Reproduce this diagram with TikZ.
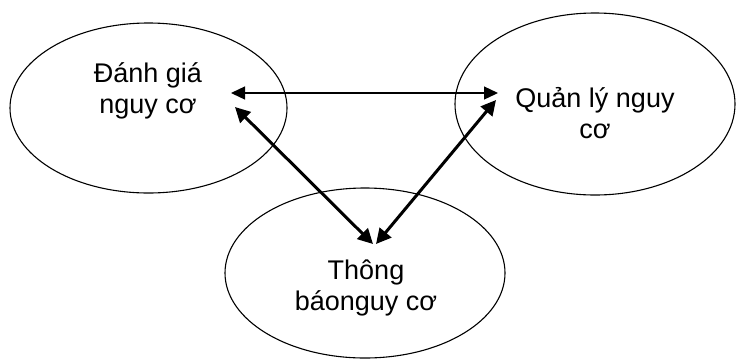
\documentclass[tikz,border=0pt]{standalone}
\usepackage{fontspec}
\setmainfont{Liberation Sans}
\usetikzlibrary{shapes.geometric,arrows.meta}
\begin{document}
\begin{tikzpicture}[x=1pt,y=-1pt,
  oval/.style={draw,ellipse,line width=1.1pt,inner sep=0pt},
  lbl/.style={font=\fontsize{27}{30.5}\selectfont,align=center,inner sep=0pt,anchor=base},
  thin/.style={line width=1.3pt,{Triangle[length=14pt,width=13pt]}-{Triangle[length=14pt,width=13pt]}},
  thick/.style={line width=3pt,{Triangle[length=15pt,width=15pt]}-{Triangle[length=15pt,width=15pt]}}]
\useasboundingbox (0,0) rectangle (736,360);
\node[oval,minimum width=277pt,minimum height=170pt] (L) at (148.5,108) {};
\node[oval,minimum width=280pt,minimum height=182pt] (R) at (595,104) {};
\node[oval,minimum width=280pt,minimum height=170pt] (B) at (365,273) {};
\node[lbl] (tL) at (148,113) {Đánh giá\\nguy cơ};
\node[lbl] (tR) at (595,138) {Quản lý nguy\\cơ};
\node[lbl] (tB) at (366,310) {Thông\\báonguy cơ};
\coordinate (aL) at (231,93);
\coordinate (aR) at (498,93);
\coordinate (bL) at (235,107);
\coordinate (bR) at (496,100);
\coordinate (c1) at (373,244);
\coordinate (c2) at (376,244);
\draw[thin] (aL) -- (aR);
\draw[thick] (bL) -- (c1);
\draw[thick] (bR) -- (c2);
\end{tikzpicture}
\end{document}
